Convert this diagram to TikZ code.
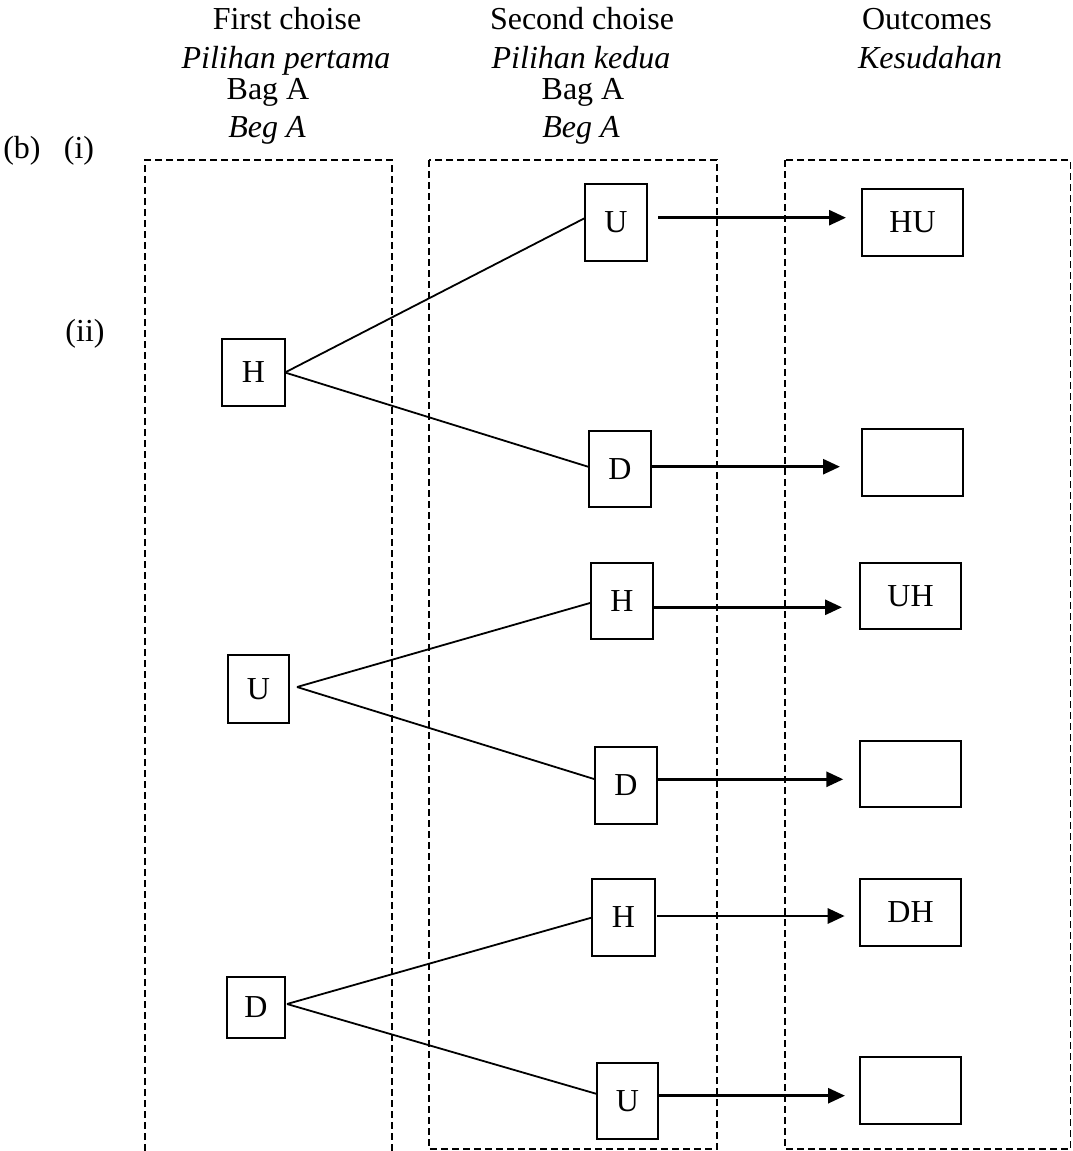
\documentclass[tikz,border=0pt]{standalone}
\usepackage{fontspec}
\setmainfont{Liberation Serif}
\usetikzlibrary{arrows.meta}
\begin{document}
\begin{tikzpicture}[x=1pt,y=-1pt,
  every node/.style={font=\fontsize{32}{38}\selectfont},
  lbl/.style={anchor=base, inner sep=0pt, outer sep=0pt},
  bx/.style 2 args={draw, line width=2pt, inner sep=0pt, outer sep=0pt, minimum width=#1, minimum height=#2},
  frame/.style={line width=1.8pt, dash pattern=on 7pt off 4pt},
  ln/.style={line width=1.8pt},
  arr/.style={line width=2.8pt, -{Triangle[length=17pt,width=15pt]}}
]
\useasboundingbox (0,0) rectangle (1072,1151);

% dashed regions
\draw[frame] (145,1151) -- (145,160) -- (392,160) -- (392,1151);
\draw[frame] (429,160) rectangle (717,1149);
\draw[frame] (785,160) rectangle (1070.5,1149);

% headers
\node[lbl] (h1a) at (287,29) {First choise};
\node[lbl] (h1b) at (286,68) {\itshape Pilihan pertama};
\node[lbl] (h1c) at (268,99) {Bag A};
\node[lbl] (h1d) at (267,137) {\itshape Beg A};
\node[lbl] (h2a) at (582,29) {Second choise};
\node[lbl] (h2b) at (581,68) {\itshape Pilihan kedua};
\node[lbl] (h2c) at (583,99) {Bag A};
\node[lbl] (h2d) at (581,137) {\itshape Beg A};
\node[lbl] (h3a) at (927,29) {Outcomes};
\node[lbl] (h3b) at (930,68) {\itshape Kesudahan};
\node[lbl] (pb) at (22,158) {(b)};
\node[lbl] (pi) at (79,158) {(i)};
\node[lbl] (pii) at (85,341) {(ii)};

% first choice
\node[bx={63pt}{67pt}] (H1) at (253.5,372.5) {H};
\node[bx={61pt}{68pt}] (U1) at (258.5,689) {U};
\node[bx={58pt}{61pt}] (D1) at (256,1007.5) {D};

% second choice
\node[bx={62pt}{77pt}] (U2) at (616,222.5) {U};
\node[bx={62pt}{76pt}] (D2) at (620,469) {D};
\node[bx={62pt}{76pt}] (H3) at (622,601) {H};
\node[bx={62pt}{77pt}] (D3) at (626,785.5) {D};
\node[bx={63pt}{77pt}] (H5) at (623.5,917.5) {H};
\node[bx={61pt}{76pt}] (U6) at (627.5,1101) {U};

% outcomes
\node[bx={101pt}{67pt}] (HU) at (912.5,222.5) {HU};
\node[bx={101pt}{67pt}] (B2) at (912.5,462.5) {};
\node[bx={101pt}{66pt}] (UH) at (910.5,596) {UH};
\node[bx={101pt}{66pt}] (B4) at (910.5,774) {};
\node[bx={101pt}{67pt}] (DH) at (910.5,912.5) {DH};
\node[bx={101pt}{67pt}] (B6) at (910.5,1090.5) {};

% branches
\draw[ln] (H1.east) -- ([yshift=4.5pt]U2.west);
\draw[ln] (H1.east) -- ([yshift=2pt]D2.west);
\draw[ln] ([xshift=8pt,yshift=2pt]U1.east) -- ([yshift=-1.7pt]H3.west);
\draw[ln] ([xshift=8pt,yshift=2pt]U1.east) -- ([yshift=6.2pt]D3.west);
\draw[ln] ([xshift=2pt,yshift=3.5pt]D1.east) -- (H5.west);
\draw[ln] ([xshift=2pt,yshift=3.5pt]D1.east) -- ([yshift=7pt]U6.west);

% arrows to outcomes
\draw[arr, shorten <=11pt, shorten >=16pt] ([yshift=4.8pt]U2.east) -- ([yshift=4.8pt]HU.west);
\draw[arr, shorten >=22pt] ([yshift=2.3pt]D2.east) -- ([yshift=-4.2pt]B2.west);
\draw[arr, shorten >=18pt] ([yshift=-6.3pt]H3.east) -- ([yshift=-11.3pt]UH.west);
\draw[arr, shorten >=16.7pt] ([yshift=6.2pt]D3.east) -- ([yshift=-5.3pt]B4.west);
\draw[arr, shorten <=2pt, shorten >=15.3pt] ([yshift=1.5pt]H5.east) -- ([yshift=-3.5pt]DH.west);
\draw[arr, shorten >=15pt] ([yshift=5.3pt]U6.east) -- ([yshift=-5.2pt]B6.west);
\end{tikzpicture}
\end{document}
